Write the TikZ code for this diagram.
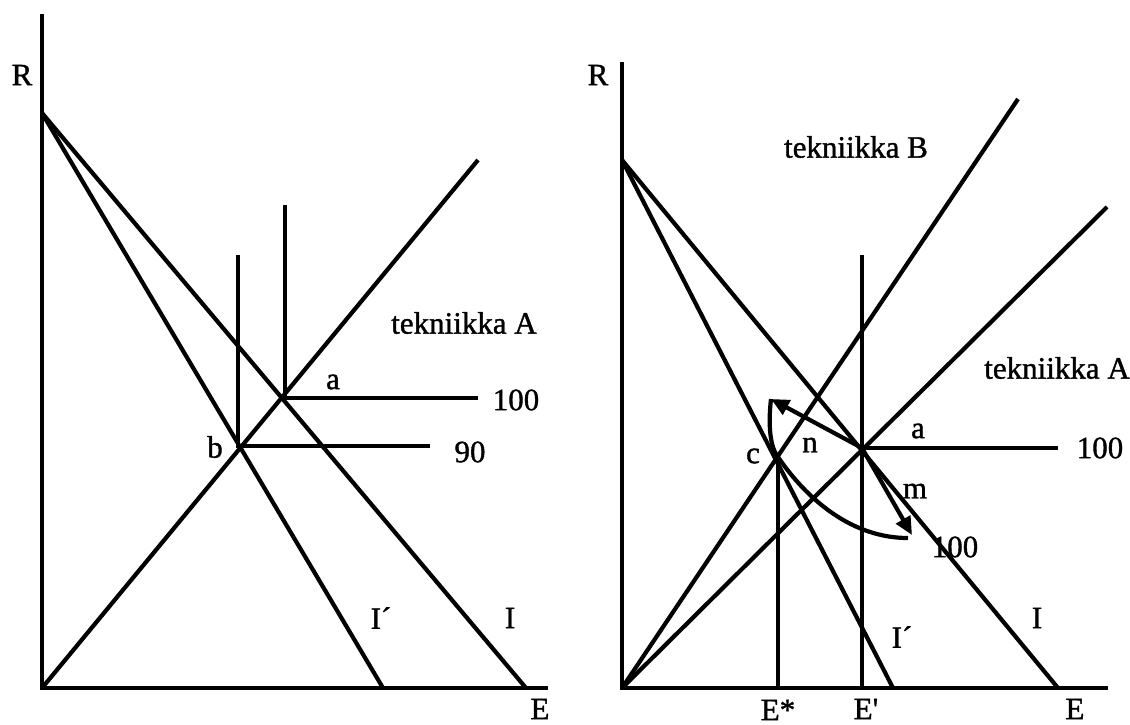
\documentclass[tikz,border=0pt]{standalone}
\usepackage{fontspec}
\setmainfont{Liberation Serif}
\newfontfamily\lblfont[FakeBold=1.2]{Liberation Serif}
\usetikzlibrary{arrows.meta}
\begin{document}
\begin{tikzpicture}[x=0.5pt,y=-0.5pt,
  ln/.style={line width=2.1pt},
  ax/.style={line width=2.3pt},
  lbl/.style={inner sep=0pt,font=\lblfont\fontsize{15.5}{18}\selectfont},
  arr/.style={line width=2.1pt,-{Triangle[length=9pt,width=8pt]}}]
\useasboundingbox (0,0) rectangle (1130,724);
% ---------- left panel ----------
\coordinate (LO) at (42,688);
\coordinate (LT) at (42,14);
\coordinate (LX) at (548,688);
\coordinate (LR) at (42,113);
\coordinate (LI) at (526,688);
\coordinate (LIp) at (383,688);
\coordinate (LA) at (478,160);
\coordinate (La) at (285,398);
\coordinate (Lb) at (238,446);
\coordinate (LaT) at (285,205);
\coordinate (LbT) at (238,255);
\coordinate (LaR) at (478,398);
\coordinate (LbR) at (430,446);
\draw[ax] (LT) -- (LO) -- (LX);
\draw[ln] (LR) -- (LI);
\draw[ln] (LR) -- (LIp);
\draw[ln] (LO) -- (LA);
\draw[ln] (LaT) -- (La) -- (LaR);
\draw[ln] (LbT) -- (Lb) -- (LbR);
\node[lbl] (lR) at (22,75) {R};
\node[lbl] (lE) at (540,709) {E};
\node[lbl] (lta) at (464,323) {tekniikka A};
\node[lbl] (la) at (333,382) {a};
\node[lbl] (lb) at (215,447) {b};
\node[lbl] (l100) at (516,400) {100};
\node[lbl] (l90) at (470,452) {90};
\node[lbl] (lIp) at (381,618) {I´};
\node[lbl] (lI) at (510,618) {I};
% ---------- right panel ----------
\coordinate (RO) at (622,688);
\coordinate (RT) at (622,62);
\coordinate (RX) at (1108,688);
\coordinate (RR) at (622,160);
\coordinate (RI) at (1058,688);
\coordinate (RIp) at (893,688);
\coordinate (RB) at (1018,99);
\coordinate (RA) at (1107,207);
\coordinate (Ra) at (862,448);
\coordinate (Rc) at (778,457);
\coordinate (RaT) at (862,255);
\coordinate (RaB) at (862,688);
\coordinate (RcB) at (778,688);
\coordinate (RaR) at (1058,448);
\coordinate (Rn) at (771,399);
\coordinate (Rm) at (912,535);
\draw[ax] (RT) -- (RO) -- (RX);
\draw[ln] (RR) -- (RI);
\draw[ln] (RR) -- (RIp);
\draw[ln] (RO) -- (RB);
\draw[ln] (RO) -- (RA);
\draw[ln] (RaT) -- (RaB);
\draw[ln] (Ra) -- (RaR);
\draw[ln] (Rc) -- (RcB);
\draw[arr] (Ra) -- (Rn);
\draw[arr] (Ra) -- (Rm);
\draw[ln] (Rn) .. controls (768,425) and (770,447) .. (Rc)
  .. controls (795,482) and (840,538) .. (908,538);
\node[lbl] (rR) at (598,75) {R};
\node[lbl] (rE) at (1075,709) {E};
\node[lbl] (rEs) at (778,710) {E*};
\node[lbl] (rEp) at (866,709) {E\textquotesingle};
\node[lbl] (rtb) at (856,147) {tekniikka B};
\node[lbl] (rta) at (1057,368) {tekniikka A};
\node[lbl] (ra) at (918,431) {a};
\node[lbl] (rc) at (753,456) {c};
\node[lbl] (rn) at (810,445) {n};
\node[lbl] (rm) at (915,491) {m};
\node[lbl] (r100) at (1100,448) {100};
\node[lbl] (r100b) at (955,547) {100};
\node[lbl] (rIp) at (902,637) {I´};
\node[lbl] (rI) at (1037,618) {I};
\end{tikzpicture}
\end{document}
